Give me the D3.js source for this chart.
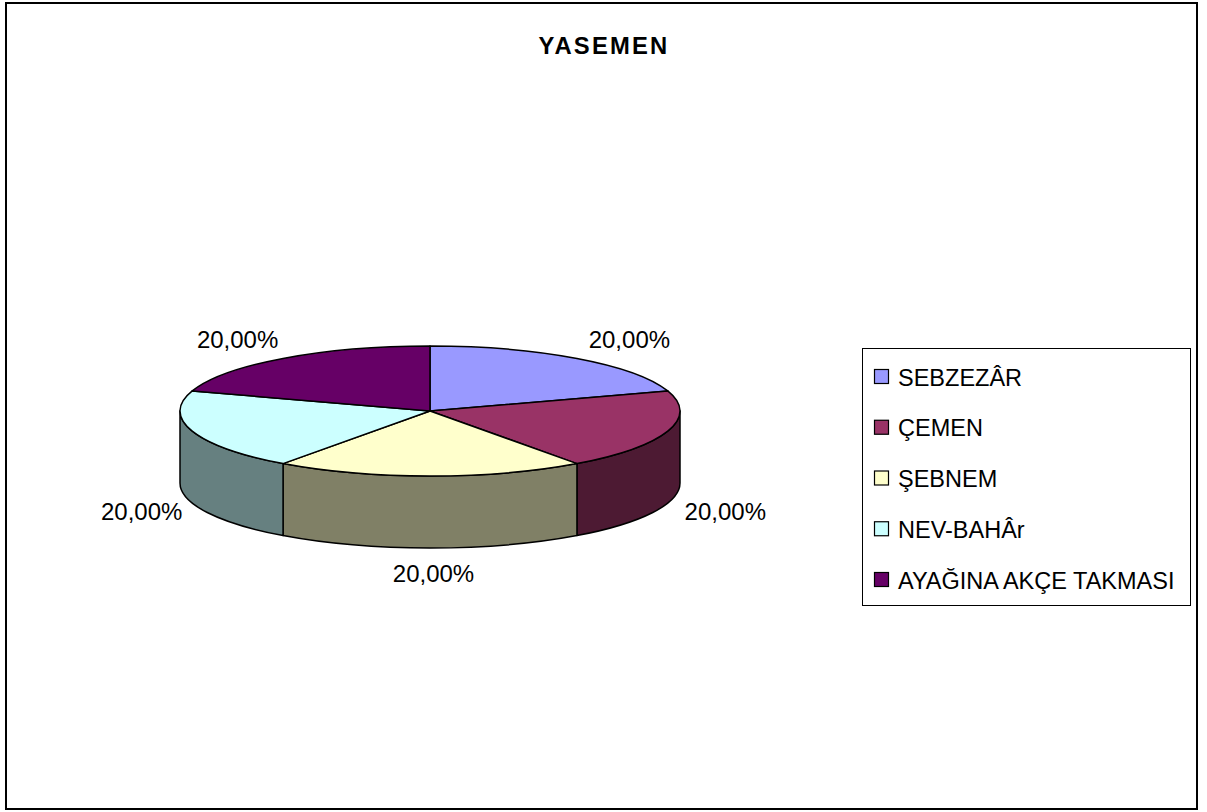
<!DOCTYPE html>
<html>
<head>
<meta charset="utf-8">
<script src="https://cdn.jsdelivr.net/npm/d3@7"></script>
<style>
  html, body { margin: 0; padding: 0; background: #fff; }
  svg { display: block; }
  text { font-family: "Liberation Sans", Arial, sans-serif; fill: #000; }
</style>
</head>
<body>
<svg id="chart" width="1207" height="812"></svg>
<script>
const title = "YASEMEN";
const categories = ["SEBZEZÂR", "ÇEMEN", "ŞEBNEM", "NEV-BAHÂr", "AYAĞINA AKÇE TAKMASI"];
const values = [20, 20, 20, 20, 20];
const colors = ["#9999FF", "#993366", "#FFFFCC", "#CCFFFF", "#660066"];

const svg = d3.select("#chart");

// outer frame
svg.append("rect").attr("x", 6).attr("y", 3).attr("width", 1191).attr("height", 806)
  .attr("fill", "#fff").attr("stroke", "#000").attr("stroke-width", 2);

// title
svg.append("text").attr("x", 604).attr("y", 54).attr("text-anchor", "middle")
  .attr("font-size", 23.8).attr("font-weight", "bold").attr("letter-spacing", 2.2)
  .text(title);

// 3D pie geometry
const cx = 430, cy = 411, rx = 250, ry = 65, depth = 72;
const pt = (a, dy = 0, ex = 0, ox = 0) => [cx + ox + (rx + ex) * Math.sin(a), cy - (ry + ex) * Math.cos(a) + dy];

const pie = d3.pie().sort(null).value(d => d);
const arcs = pie(values);
const total = d3.sum(values);
const fmt = d3.formatLocale({decimal: ",", thousands: ".", grouping: [3], currency: ["", ""]}).format(".2%");

const sideColor = c => { const r = d3.rgb(c); return d3.rgb(r.r * 0.5, r.g * 0.5, r.b * 0.5).formatHex(); };

function ellArc(a0, a1, dy, sweep) {
  const p = pt(a1, dy);
  const large = Math.abs(a1 - a0) > Math.PI ? 1 : 0;
  return `A${rx},${ry} 0 ${large} ${sweep} ${p[0]},${p[1]}`;
}

const g = svg.append("g");
// side walls (front half only)
arcs.forEach((d, i) => {
  const a0 = Math.max(d.startAngle, Math.PI / 2);
  const a1 = Math.min(d.endAngle, 3 * Math.PI / 2);
  if (a1 <= a0) return;
  const t0 = pt(a0), b1 = pt(a1, depth);
  const path = `M${t0[0]},${t0[1]} ${ellArc(a0, a1, 0, 1)} L${b1[0]},${b1[1]} ${ellArc(a1, a0, depth, 0)} Z`;
  g.append("path").attr("d", path).attr("fill", sideColor(colors[i]))
    .attr("stroke", "#000").attr("stroke-width", 1.5).attr("stroke-linejoin", "round");
});
// top faces
arcs.forEach((d, i) => {
  const p0 = pt(d.startAngle);
  const path = `M${cx},${cy} L${p0[0]},${p0[1]} ${ellArc(d.startAngle, d.endAngle, 0, 1)} Z`;
  g.append("path").attr("d", path).attr("fill", colors[i])
    .attr("stroke", "#000").attr("stroke-width", 1.5).attr("stroke-linejoin", "round");
});

// labels
arcs.forEach((d, i) => {
  const m = (d.startAngle + d.endAngle) / 2;
  const front = Math.cos(m) < 0;
  const p = pt(m, front ? depth : 0, 14, 3.5);
  const s = Math.sin(m), c = Math.cos(m);
  const anchor = Math.abs(s) < 0.2 ? "middle" : (s > 0 ? "start" : "end");
  svg.append("text").attr("x", p[0]).attr("y", p[1] + 9 - 10.5 * c)
    .attr("text-anchor", anchor).attr("font-size", 24)
    .text(fmt(d.data / total));
});

// legend
const lg = svg.append("g");
lg.append("rect").attr("x", 862.5).attr("y", 348.5).attr("width", 328).attr("height", 257)
  .attr("fill", "#fff").attr("stroke", "#000").attr("stroke-width", 1);
const rowY = d3.scalePoint().domain(categories).range([377, 580]);
categories.forEach((c, i) => {
  const y = rowY(c);
  lg.append("rect").attr("x", 874.5).attr("y", y - 7.5).attr("width", 14).attr("height", 14)
    .attr("fill", colors[i]).attr("stroke", "#000").attr("stroke-width", 1.2);
  lg.append("text").attr("x", 898).attr("y", y + 8.5).attr("font-size", 23.5).text(c);
});
</script>
</body>
</html>
